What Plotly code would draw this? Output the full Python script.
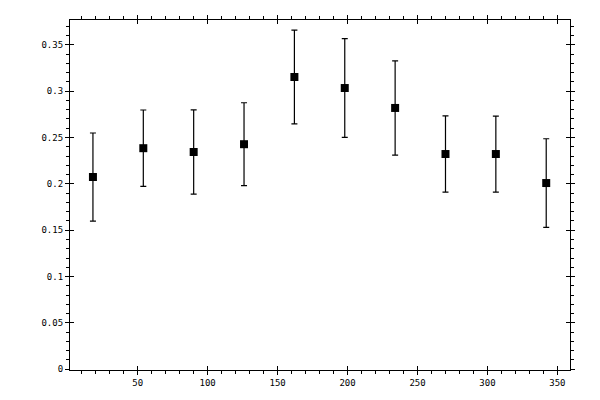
import plotly.graph_objects as go

# centros de los bins (grados) y valores medidos
angulo = [18, 54, 90, 126, 162, 198, 234, 270, 306, 342]
valor = [0.2074, 0.2385, 0.2344, 0.2428, 0.3153, 0.3034, 0.2819, 0.2322, 0.2322, 0.2009]
error = [0.0475, 0.0412, 0.0455, 0.0447, 0.0505, 0.0532, 0.0508, 0.0412, 0.0410, 0.0478]

fuente = dict(family="DejaVu Sans Mono", size=9, color="black")

fig = go.Figure()
fig.add_trace(go.Scatter(
    x=angulo, y=valor, mode="markers",
    marker=dict(symbol="square", size=8, color="black"),
    error_y=dict(type="data", array=error, visible=True, color="black", thickness=1.2, width=3),
    showlegend=False))
# traza vacia para que se dibujen los ejes superpuestos (ticks que cruzan el eje)
fig.add_trace(go.Scatter(x=[], y=[], xaxis="x2", yaxis="y2", showlegend=False, hoverinfo="skip"))

eje = dict(showgrid=False, zeroline=False, showline=True, linecolor="black", linewidth=1.2,
           mirror="allticks", ticks="outside", ticklen=4, tickcolor="black", tickwidth=1.2,
           tickfont=fuente, automargin=False)

# el navegador deja 8px de margen en el body, lo compenso en el tamaño
fig.update_layout(
    width=592, height=392,
    plot_bgcolor="white", paper_bgcolor="white",
    margin=dict(l=62, r=30, t=12, b=30),
    xaxis=dict(eje, range=[1.6, 359], dtick=50, tick0=0,
               minor=dict(dtick=10, ticks="outside", ticklen=3, tickcolor="black", tickwidth=1.2)),
    yaxis=dict(eje, range=[-0.0008, 0.3768], dtick=0.05, tick0=0,
               minor=dict(dtick=0.01, ticks="outside", ticklen=3, tickcolor="black", tickwidth=1.2)),
    xaxis2=dict(overlaying="x", matches="x", anchor="y2", side="bottom", showgrid=False, zeroline=False,
                showline=False, mirror="ticks", ticks="inside", ticklen=4, tickcolor="black", tickwidth=1.2,
                showticklabels=False, dtick=50, tick0=0, range=[1.6, 359]),
    yaxis2=dict(overlaying="y", anchor="x2", side="left", showgrid=False, zeroline=False,
                showline=False, mirror="ticks", ticks="inside", ticklen=4, tickcolor="black", tickwidth=1.2,
                showticklabels=False, dtick=0.05, tick0=0, range=[-0.0008, 0.3768]),
)

fig.write_html("out.html")
